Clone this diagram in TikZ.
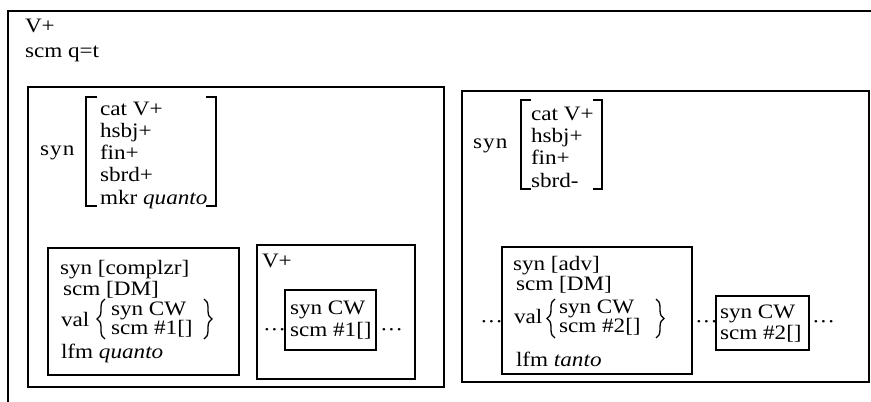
\documentclass[tikz,border=0pt]{standalone}
\usepackage{fontspec}
\setmainfont{Liberation Serif}[FakeStretch=1.13]
\usetikzlibrary{decorations.pathreplacing}
\begin{document}
\begin{tikzpicture}[x=1pt,y=-1pt,
  every node/.style={inner sep=0pt, outer sep=0pt, anchor=base west,
    font=\fontsize{20.5}{24}\selectfont},
  frame/.style={draw, line width=1.2pt},
  brk/.style={draw, line width=1.3pt},
  brc/.style={draw, line width=1.3pt, decorate, decoration={brace, amplitude=8pt}}]
\useasboundingbox (0,0) rectangle (871,402);
% outer frame (open at right and bottom)
\draw[frame] (871,11) -- (8,11) -- (8,402);
\node (tV) at (25,32) {V+};
\node (tsem) at (25,57) {scm q=t};

% ---------------- left panel ----------------
\draw[frame] (28,87) rectangle (444,387);
\node (lsyn) at (40,155) {s\kern1.2pt y\kern1.2pt n};
\draw[brk] (97,97) -- (86,97) -- (86,206) -- (97,206);
\draw[brk] (206,97) -- (216,97) -- (216,206) -- (206,206);
\node (lcat) at (100,115) {cat V+};
\node (lhsbj) at (100,137) {hsbj+};
\node (lfin) at (100,159) {fin+};
\node (lsbrd) at (100,181) {sbrd+};
\node (lmkr) at (100,204) {mkr \textit{quanto}};

% box 1
\draw[frame] (48,248) rectangle (239,375);
\node (b1syn) at (60,274) {syn [complzr]};
\node (b1sem) at (63,295) {scm [DM]};
\node (b1val) at (61,326) {val};
\draw[brc] (105,339) -- (105,299);
\node (b1csyn) at (111,315) {syn CW};
\node (b1csem) at (111,334) {scm \#1[]};
\draw[brc] (204,299) -- (204,339);
\node (b1lfm) at (61,358) {lfm \textit{quanto}};

% box 2
\draw[frame] (257,245) rectangle (415,379);
\node (b2V) at (262,267) {V+};
\draw[frame] (285,290) rectangle (376,350);
\node (b2syn) at (290,314) {syn CW};
\node (b2sem) at (290,336) {scm \#1[]};
\node (b2d1) at (263,336) {···};
\node (b2d2) at (380,336) {···};

% ---------------- right panel ----------------
\draw[frame] (462,91) rectangle (869,382);
\node (rsyn) at (473,148) {s\kern1.2pt y\kern1.2pt n};
\draw[brk] (531,100) -- (521,100) -- (521,189) -- (531,189);
\draw[brk] (593,100) -- (602,100) -- (602,189) -- (593,189);
\node (rcat) at (531,120) {cat V+};
\node (rhsbj) at (531,142) {hsbj+};
\node (rfin) at (531,164) {fin+};
\node (rsbrd) at (531,187) {sbrd-};

% box 3
\draw[frame] (502,247) rectangle (692,374);
\node (b3syn) at (513,270) {syn [adv]};
\node (b3sem) at (516,290) {scm [DM]};
\node (b3val) at (514,323) {val};
\draw[brc] (555,338) -- (555,299);
\node (b3csyn) at (559,313) {syn CW};
\node (b3csem) at (559,332) {scm \#2[]};
\draw[brc] (656,299) -- (656,338);
\node (b3lfm) at (516,366) {lfm \textit{tanto}};
\node (b3d) at (480,328) {···};

% box 4
\draw[frame] (716,296) rectangle (809,350);
\node (b4syn) at (720,318) {syn CW};
\node (b4sem) at (720,339) {scm \#2[]};
\node (b4d1) at (695,328) {···};
\node (b4d2) at (812,328) {···};
\end{tikzpicture}
\end{document}
